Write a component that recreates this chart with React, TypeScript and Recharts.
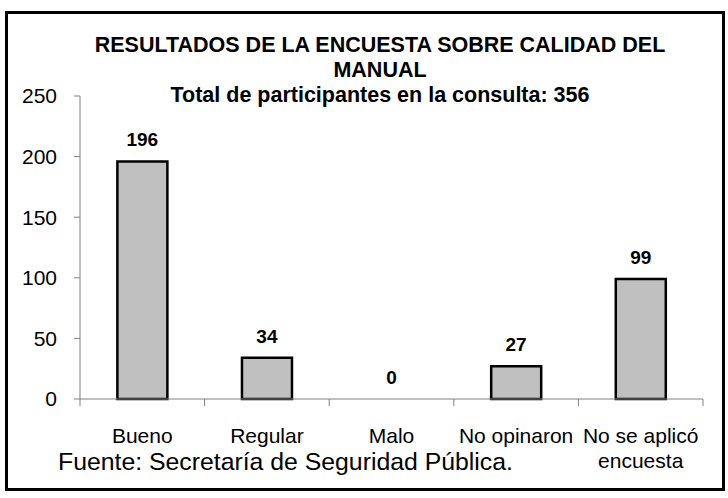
import { ComposedChart, Bar, Line, XAxis, YAxis, LabelList, Text } from "recharts";

const categories = ["Bueno", "Regular", "Malo", "No opinaron", "No se aplicó encuesta"];
const respuestas = [196, 34, 0, 27, 99];
const yTicks = [0, 50, 100, 150, 200, 250];

const titulo = ["RESULTADOS DE LA ENCUESTA SOBRE CALIDAD DEL", "MANUAL"];
const subtitulo = "Total de participantes en la consulta: 356";
const fuente = "Fuente: Secretaría de Seguridad Pública.";

const data = categories.map((name, i) => ({ name, value: respuestas[i] }));

const FONT = '"Liberation Sans", Arial, sans-serif';
const AXIS = "#808080";
const W = 728;
const H = 498;
const MARGIN = { top: 96, right: 25, bottom: 0, left: 0 };
const Y_WIDTH = 80;
const BAND = (W - MARGIN.left - MARGIN.right - Y_WIDTH) / categories.length;
const LABEL_GAP = 29;

// category label plus the small separator ticks at the band edges
function CategoryTick({ x, y, payload, index }: any) {
  const axisY = y - LABEL_GAP;
  const last = index === categories.length - 1;
  return (
    <g>
      <line x1={x - BAND / 2} x2={x - BAND / 2} y1={axisY} y2={axisY + 7} stroke={AXIS} />
      {last && <line x1={x + BAND / 2} x2={x + BAND / 2} y1={axisY} y2={axisY + 7} stroke={AXIS} />}
      <Text
        x={x}
        y={y}
        width={BAND}
        textAnchor="middle"
        verticalAnchor="start"
        lineHeight="1.2em"
        fontSize={21}
        fontFamily={FONT}
        fill="#000"
      >
        {payload.value}
      </Text>
    </g>
  );
}

export default function App() {
  const line = (top: number, text: string) => (
    <div
      style={{
        position: "absolute",
        left: 80,
        width: 600,
        top,
        textAlign: "center",
        fontSize: 21.5,
        lineHeight: "21px",
        fontWeight: "bold",
        whiteSpace: "nowrap",
      }}
    >
      {text}
    </div>
  );

  return (
    <div
      style={{
        position: "absolute",
        left: 0,
        top: 0,
        width: W,
        height: H,
        background: "#fff",
        fontFamily: FONT,
        color: "#000",
      }}
    >
      <div
        style={{
          position: "absolute",
          left: 5,
          top: 11,
          width: 720,
          height: 480,
          border: "3px solid #000",
          boxSizing: "border-box",
        }}
      />
      <ComposedChart
        width={W}
        height={H}
        data={data}
        margin={MARGIN}
        barCategoryGap="30%"
        style={{ position: "absolute", left: 0, top: 0 }}
      >
        <XAxis
          dataKey="name"
          height={99}
          stroke={AXIS}
          axisLine={{ stroke: AXIS }}
          tickLine={false}
          tickSize={0}
          tickMargin={LABEL_GAP}
          interval={0}
          tick={<CategoryTick />}
        />
        <YAxis
          width={Y_WIDTH}
          domain={[0, 250]}
          ticks={yTicks}
          stroke={AXIS}
          axisLine={{ stroke: AXIS }}
          tickLine={{ stroke: AXIS }}
          tickSize={6}
          tickMargin={17}
          tick={{ fill: "#000", fontSize: 21, fontFamily: FONT }}
        />
        <Bar dataKey="value" fill="#c0c0c0" stroke="#000" strokeWidth={2.5} isAnimationActive={false} />
        <Line dataKey="value" stroke="none" dot={false} activeDot={false} isAnimationActive={false}>
          <LabelList
            dataKey="value"
            position="top"
            offset={15}
            fill="#000"
            fontSize={19}
            fontWeight="bold"
            fontFamily={FONT}
          />
        </Line>
      </ComposedChart>
      {line(35, titulo[0])}
      {line(60, titulo[1])}
      {line(85, subtitulo)}
      <div
        style={{
          position: "absolute",
          left: 58,
          top: 450,
          fontSize: 24.8,
          lineHeight: "24px",
          whiteSpace: "nowrap",
        }}
      >
        {fuente}
      </div>
    </div>
  );
}
